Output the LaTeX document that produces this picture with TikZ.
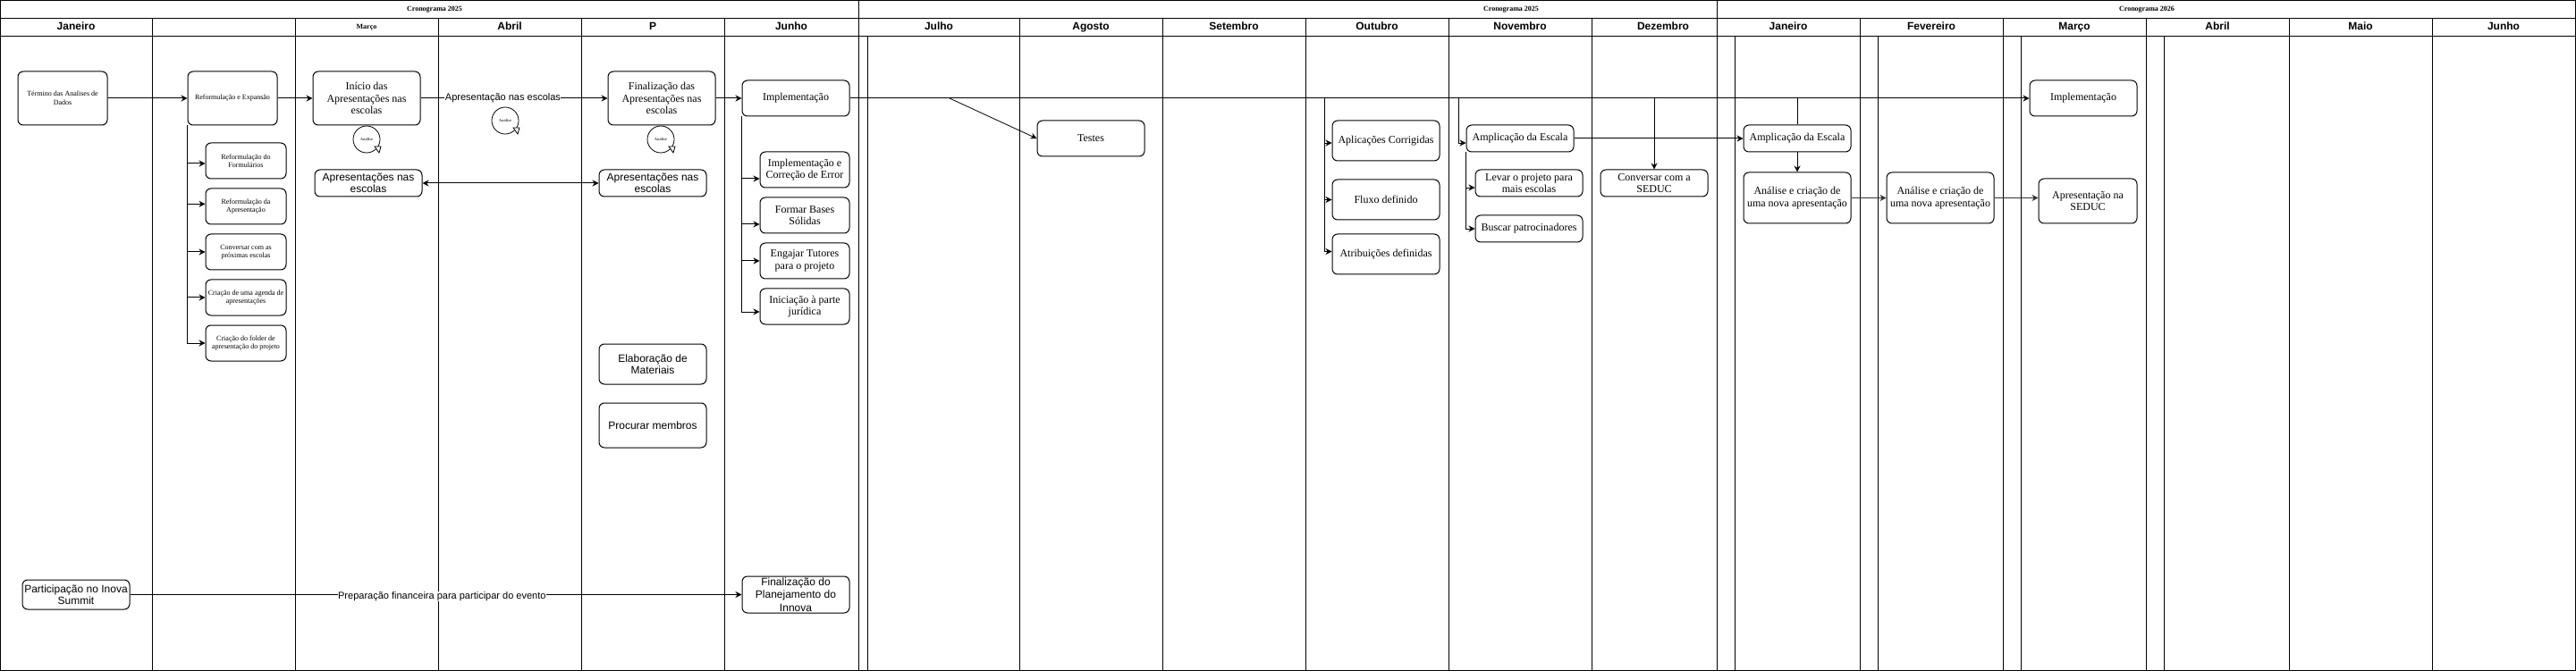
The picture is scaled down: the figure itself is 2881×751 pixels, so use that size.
\documentclass[tikz,border=0pt]{standalone}
\usepackage{fontspec}
\setmainfont{Liberation Serif}
\setsansfont{Liberation Sans}
\usetikzlibrary{arrows.meta,positioning,calc}

\begin{document}
\begin{tikzpicture}[x=1pt, y=-1pt,
    lane/.style={line width=0.8pt},
    bx/.style={draw, rounded corners=6pt, line width=1pt, align=center, inner sep=1pt},
    txtbig/.style={font=\fontsize{12}{13.5}\selectfont},
    txtsmall/.style={font=\fontsize{8}{9.5}\selectfont},
    txtsans/.style={font=\sffamily\fontsize{12}{13.5}\selectfont},
    hdr/.style={font=\sffamily\bfseries\fontsize{12}{14}\selectfont, text height=9pt, text depth=2.5pt},
    ttl/.style={font=\bfseries\fontsize{8}{10}\selectfont, text height=6pt, text depth=1.7pt},
    lbl/.style={fill=white, inner sep=0.5pt, font=\sffamily\fontsize{11}{13}\selectfont},
    lp/.style={draw, circle, minimum size=30pt, inner sep=0pt, line width=0.8pt, font=\bfseries\fontsize{4.5}{5}\selectfont, text=black!70},
    arr/.style={-{Stealth[length=7pt,width=7pt]}, line width=1pt}]
    \useasboundingbox (0,0) rectangle (2881,751);

    % Frame and rows
    \draw[lane] (0.5,0.5) rectangle (2880.5,750);
    \draw[lane] (0,20) -- (2881,20);
    \draw[lane] (0,40) -- (2881,40);
    \draw[lane] (960,0) -- (960,750) (1920,0) -- (1920,750);

    % Lanes
    \draw[lane] (170,20) -- (170,750) (330,20) -- (330,750) (490,20) -- (490,750)
        (650,20) -- (650,750) (810,20) -- (810,750);
    \draw[lane] (1140,20) -- (1140,750) (1300,20) -- (1300,750) (1460,20) -- (1460,750)
        (1620,20) -- (1620,750) (1780,20) -- (1780,750);
    \draw[lane] (2080,20) -- (2080,750) (2240,20) -- (2240,750) (2400,20) -- (2400,750)
        (2560,20) -- (2560,750) (2720,20) -- (2720,750);
    \draw[lane] (970,40) -- (970,750) (1940,40) -- (1940,750) (2100,40) -- (2100,750)
        (2260,40) -- (2260,750) (2420,40) -- (2420,750);

    % Titles
    \node[ttl] (t2025a) at (486,10) {Cronograma 2025};
    \node[ttl] (t2025b) at (1690,10) {Cronograma 2025};
    \node[ttl] (t2026) at (2401,10) {Cronograma 2026};

    % Month headers
    \node[hdr] (jan) at (85,30) {Janeiro};
    \node[ttl] (mar) at (410,30) {Março};
    \node[hdr] (abr) at (570,30) {Abril};
    \node[hdr] (p) at (730,30) {P};
    \node[hdr] (jun) at (885,30) {Junho};
    \node[hdr] (jul) at (1050,30) {Julho};
    \node[hdr] (ago) at (1220,30) {Agosto};
    \node[hdr] (set) at (1380,30) {Setembro};
    \node[hdr] (out) at (1540,30) {Outubro};
    \node[hdr] (nov) at (1700,30) {Novembro};
    \node[hdr] (dez) at (1860,30) {Dezembro};
    \node[hdr] (jan2) at (2000,30) {Janeiro};
    \node[hdr] (fev2) at (2160,30) {Fevereiro};
    \node[hdr] (mar2) at (2320,30) {Março};
    \node[hdr] (abr2) at (2480,30) {Abril};
    \node[hdr] (mai2) at (2640,30) {Maio};
    \node[hdr] (jun2) at (2800,30) {Junho};

    % Primeiro semestre
    \node[bx, txtsmall, minimum width=100pt, minimum height=60pt] (termino) at (70,110) {Término das Analises de\\Dados};
    \node[bx, txtsmall, minimum width=100pt, minimum height=60pt] (reform) at (260,110) {Reformulação e Expansão};
    \node[bx, txtbig, minimum width=120pt, minimum height=60pt] (inicio) at (410,110) {Início das\\Apresentações nas\\escolas};
    \node[bx, txtbig, minimum width=120pt, minimum height=60pt] (final) at (740,110) {Finalização das\\Apresentações nas\\escolas};
    \node[bx, txtbig, minimum width=120pt, minimum height=40pt] (impl) at (890,110) {Implementação};

    \node[bx, txtsmall, minimum width=90pt, minimum height=40pt] (sub1) at (275,180) {Reformulação do\\Formulários};
    \node[bx, txtsmall, minimum width=90pt, minimum height=40pt, below=10pt of sub1] (sub2) {Reformulação da\\Apresentação};
    \node[bx, txtsmall, minimum width=90pt, minimum height=40pt, below=10pt of sub2] (sub3) {Conversar com as\\próximas escolas};
    \node[bx, txtsmall, minimum width=90pt, minimum height=40pt, below=10pt of sub3] (sub4) {Criação de uma agenda de\\apresentações};
    \node[bx, txtsmall, minimum width=90pt, minimum height=40pt, below=10pt of sub4] (sub5) {Criação do folder de\\apresentação do projeto};

    \node[lp] (loopA) at (410,156) {Análise};
    \node[lp] (loopB) at (565,135) {Análise};
    \node[lp] (loopC) at (739,156) {Análise};
    \draw[line width=0.8pt, fill=white] ([shift={(9,8)}]loopA.center) -- ([shift={(16,8)}]loopA.center) -- ([shift={(14,15)}]loopA.center) -- cycle;
    \draw[line width=0.8pt, fill=white] ([shift={(9,8)}]loopB.center) -- ([shift={(16,8)}]loopB.center) -- ([shift={(14,15)}]loopB.center) -- cycle;
    \draw[line width=0.8pt, fill=white] ([shift={(9,8)}]loopC.center) -- ([shift={(16,8)}]loopC.center) -- ([shift={(14,15)}]loopC.center) -- cycle;

    \node[bx, txtsans, inner sep=0pt, minimum width=120pt, minimum height=30pt] (apr1) at (412,205) {Apresentações nas\\escolas};
    \node[bx, txtsans, inner sep=0pt, minimum width=120pt, minimum height=30pt] (apr2) at (730,205) {Apresentações nas\\escolas};

    \node[bx, txtbig, minimum width=100pt, minimum height=40pt] (imp1) at (900,190) {Implementação e\\Correção de Error};
    \node[bx, txtbig, minimum width=100pt, minimum height=40pt, below=10pt of imp1] (imp2) {Formar Bases\\Sólidas};
    \node[bx, txtbig, minimum width=100pt, minimum height=40pt, below=10pt of imp2] (imp3) {Engajar Tutores\\para o projeto};
    \node[bx, txtbig, minimum width=100pt, minimum height=40pt, below=10pt of imp3] (imp4) {Iniciação à parte\\jurídica};

    \node[bx, txtsans, minimum width=120pt, minimum height=45pt] (elab) at (730,407.5) {Elaboração de\\Materiais};
    \node[bx, txtsans, minimum width=120pt, minimum height=50pt, below=20pt of elab] (procurar) {Procurar membros};

    \node[bx, txtsans, inner sep=0pt, minimum width=120pt, minimum height=33pt] (summit) at (85,665.5) {Participação no Inova\\Summit};
    \node[bx, font=\sffamily\fontsize{12}{14.5}\selectfont, inner sep=0pt, minimum width=120pt, minimum height=41pt] (planej) at (890,665.5) {Finalização do\\Planejamento do\\Innova};

    % Segundo semestre
    \node[bx, txtbig, minimum width=120pt, minimum height=40pt] (testes) at (1220,155) {Testes};
    \node[bx, txtbig, minimum width=120pt, minimum height=45pt] (aplic) at (1550,157.5) {Aplicações Corrigidas};
    \node[bx, txtbig, minimum width=120pt, minimum height=45pt, below=20pt of aplic] (fluxo) {Fluxo definido};
    \node[bx, txtbig, minimum width=120pt, minimum height=45pt, below=15pt of fluxo] (atrib) {Atribuições definidas};
    \node[bx, txtbig, minimum width=120pt, minimum height=30pt] (ampl) at (1700,155) {Amplicação da Escala};
    \node[bx, txtbig, inner sep=0pt, minimum width=120pt, minimum height=30pt] (levar) at (1710,205) {Levar o projeto para\\mais escolas};
    \node[bx, txtbig, minimum width=120pt, minimum height=30pt, below=20pt of levar] (buscar) {Buscar patrocinadores};
    \node[bx, txtbig, inner sep=0pt, minimum width=120pt, minimum height=30pt] (seduc) at (1850,205) {Conversar com a\\SEDUC};

    % 2026
    \node[bx, txtbig, minimum width=120pt, minimum height=30pt] (ampl2) at (2010,155) {Amplicação da Escala};
    \node[bx, txtbig, minimum width=120pt, minimum height=57pt] (anal1) at (2010,221.5) {Análise e criação de\\uma nova apresentação};
    \node[bx, txtbig, minimum width=120pt, minimum height=57pt] (anal2) at (2170,221.5) {Análise e criação de\\uma nova apresentação};
    \node[bx, txtbig, minimum width=110pt, minimum height=50pt] (seduc2) at (2335,225) {Apresentação na\\SEDUC};
    \node[bx, txtbig, minimum width=120pt, minimum height=40pt] (impl2) at (2330,110) {Implementação};

    % Connections
    \draw[arr] (termino) -- (reform);
    \draw[arr] (reform) -- (inicio);
    \draw[arr] (inicio) -- node[lbl, pos=0.44] {Apresentação nas escolas} (final);
    \draw[arr] (final) -- (impl);
    \draw[arr, {Stealth[length=7pt,width=7pt]}-{Stealth[length=7pt,width=7pt]}] (apr1) -- (apr2);
    \draw[arr] (reform.south west) |- ([yshift=-3pt]sub1.west);
    \draw[arr] (reform.south west) |- ([yshift=2.7pt]sub2.west);
    \draw[arr] (reform.south west) |- (sub3.west);
    \draw[arr] (reform.south west) |- (sub4.west);
    \draw[arr] (reform.south west) |- (sub5.west);
    \draw[arr] (impl.south west) |- ([yshift=-10pt]imp1.west);
    \draw[arr] (impl.south west) |- ([yshift=-10pt]imp2.west);
    \draw[arr] (impl.south west) |- (imp3.west);
    \draw[arr] (impl.south west) |- ([yshift=-6pt]imp4.west);
    \draw[arr] (summit) -- node[lbl, pos=0.51, yshift=-2pt] {Preparação financeira para participar do evento} (planej);

    \coordinate (brTestes) at (1062,110);
    \coordinate (brOut) at (1481,110);
    \coordinate (brNov) at (1631,110);
    \coordinate (brDez) at (1850,110);
    \coordinate (brJan) at (2010,110);
    \draw[arr] (impl) -- (impl2);
    \draw[arr, line width=0.8pt] (brTestes) -- (testes.west);
    \draw[arr, line width=0.8pt] (brOut) |- ([yshift=-2.5pt]aplic.west);
    \draw[arr, line width=0.8pt] (brOut) |- (fluxo.west);
    \draw[arr, line width=0.8pt] (brOut) |- ([yshift=3pt]atrib.west);
    \draw[arr, line width=0.8pt] (brNov) |- ([yshift=-5pt]ampl.west);
    \draw[arr, line width=0.8pt] (ampl.south west) |- ([yshift=-5pt]levar.west);
    \draw[arr, line width=0.8pt] (ampl.south west) |- (buscar.west);
    \draw[arr, line width=0.8pt] (brDez) -- (seduc);
    \draw[arr] (ampl) -- (ampl2);
    \draw[line width=1pt] (brJan) -- (ampl2);
    \draw[arr] (ampl2) -- (anal1);
    \draw[arr, draw=black!80] (anal1) -- (anal2);
    \draw[arr, draw=black!80] (anal2.east) -- (anal2.east -| seduc2.west);
\end{tikzpicture}
\end{document}
